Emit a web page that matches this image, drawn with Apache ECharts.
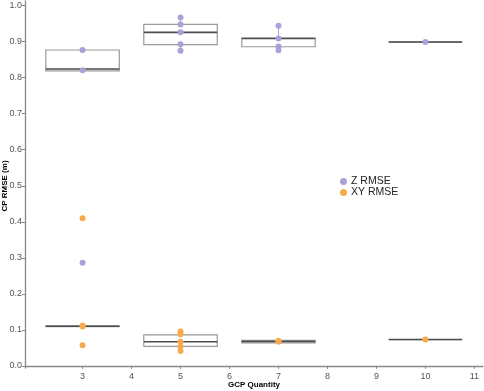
<!DOCTYPE html>
<html>
<head>
<meta charset="utf-8">
<script src="https://cdn.jsdelivr.net/npm/echarts@6/dist/echarts.min.js"></script>
<style>
  html, body { margin: 0; padding: 0; background: #fff; }
  #main { width: 484px; height: 391px; }
</style>
</head>
<body>
<div id="main"></div>
<script>
// GCP positions and tick labels
var xTicks = [3, 4, 5, 6, 7, 8, 9, 10, 11];
var yTicks = [0, 0.1, 0.2, 0.3, 0.4, 0.5, 0.6, 0.7, 0.8, 0.9, 1.0];

// Z RMSE points
var zX = [3, 3, 3, 5, 5, 5, 5, 5, 7, 7, 7, 7, 10];
var zVals = [0.877, 0.821, 0.286, 0.967, 0.948, 0.926, 0.893, 0.875, 0.944, 0.909, 0.887, 0.876, 0.899];

// XY RMSE points
var xyX = [3, 3, 3, 3, 5, 5, 5, 5, 5, 7, 7, 10];
var xyVals = [0.410, 0.112, 0.109, 0.057, 0.095, 0.088, 0.067, 0.054, 0.041, 0.070, 0.067, 0.073];

// boxes: [x, low whisker, q1, median, q3, high whisker]
var boxPos = [3, 5, 7, 10];
var zBox = [
  [0.819, 0.819, 0.824, 0.877, 0.877],
  [0.875, 0.892, 0.926, 0.948, 0.967],
  [0.876, 0.886, 0.909, 0.910, 0.944],
  [0.899, 0.899, 0.899, 0.899, 0.899]
];
var xyBox = [
  [0.109, 0.109, 0.110, 0.111, 0.111],
  [0.041, 0.054, 0.067, 0.086, 0.095],
  [0.064, 0.064, 0.068, 0.071, 0.071],
  [0.073, 0.073, 0.073, 0.073, 0.073]
];

var purple = '#aaa2d6';
var orange = '#f9aa4c';

function pairs(xs, ys) {
  return xs.map(function (x, i) { return [x, ys[i]]; });
}
function boxRows(b) {
  return b.map(function (r, i) { return [boxPos[i]].concat(r); });
}

function makeBoxRender(color) {
  return function (params, api) {
    var x = api.value(0);
    var lo = api.coord([x, api.value(1)]);
    var hi = api.coord([x, api.value(5)]);
    var tl = api.coord([x - 0.75, api.value(4)]);
    var br = api.coord([x + 0.75, api.value(2)]);
    var mL = api.coord([x - 0.75, api.value(3)]);
    var mR = api.coord([x + 0.75, api.value(3)]);
    return {
      type: 'group',
      children: [
        { type: 'line', shape: { x1: hi[0], y1: hi[1], x2: hi[0], y2: tl[1] },
          style: { stroke: color, lineWidth: 1 } },
        { type: 'line', shape: { x1: lo[0], y1: lo[1], x2: lo[0], y2: br[1] },
          style: { stroke: color, lineWidth: 1 } },
        { type: 'rect', shape: { x: tl[0], y: tl[1], width: br[0] - tl[0], height: br[1] - tl[1] },
          style: { fill: '#fff', stroke: '#9a9a9a', lineWidth: 1.2 } },
        { type: 'line', shape: { x1: mL[0], y1: mL[1], x2: mR[0], y2: mR[1] },
          style: { stroke: '#4d4d4d', lineWidth: 1.6 } }
      ]
    };
  };
}

var chart = echarts.init(document.getElementById('main'));
chart.setOption({
  animation: false,
  backgroundColor: '#fff',
  grid: { left: 25, right: 1, top: 1, bottom: 23, outerBoundsMode: 'none', containLabel: false },
  legend: {
    orient: 'vertical',
    left: 335,
    top: 171,
    itemWidth: 7,
    itemHeight: 7,
    itemGap: 0,
    icon: 'circle',
    textStyle: { fontFamily: 'Liberation Sans', fontSize: 10.5, color: '#222', lineHeight: 11, padding: [0, 0, 0, -1] },
    data: ['Z RMSE', 'XY RMSE']
  },
  // axis titles
  graphic: [
    { type: 'text', x: 254, y: 385, style: { text: 'GCP Quantity', textAlign: 'center', textVerticalAlign: 'middle',
        font: 'bold 8px "Liberation Sans"', fill: '#000' } },
    { type: 'text', x: 5, y: 186, rotation: Math.PI / 2, style: { text: 'CP RMSE (m)', textAlign: 'center', textVerticalAlign: 'middle',
        font: 'bold 8px "Liberation Sans"', fill: '#000' } }
  ],
  xAxis: {
    type: 'value',
    min: 1.825,
    max: 11.175,
    axisLine: { lineStyle: { color: '#888', width: 1.3 } },
    axisTick: { customValues: xTicks, length: 3, lineStyle: { color: '#888' } },
    axisLabel: { customValues: xTicks, fontFamily: 'Liberation Sans', fontSize: 9, color: '#555', margin: 4 },
    splitLine: { show: false }
  },
  yAxis: {
    type: 'value',
    min: -0.006,
    max: 1.013,
    axisLine: { show: true, lineStyle: { color: '#888', width: 1.3 } },
    axisTick: { show: true, customValues: yTicks, length: 3, lineStyle: { color: '#888' } },
    axisLabel: {
      customValues: yTicks, fontFamily: 'Liberation Sans', fontSize: 9, color: '#555', margin: 3,
      formatter: function (v) { return v.toFixed(1); }
    },
    splitLine: { show: false }
  },
  series: [
    { type: 'custom', name: 'zbox', renderItem: makeBoxRender(purple), data: boxRows(zBox), z: 1, silent: true },
    { type: 'custom', name: 'xybox', renderItem: makeBoxRender(orange), data: boxRows(xyBox), z: 1, silent: true },
    { type: 'scatter', name: 'Z RMSE', data: pairs(zX, zVals), symbolSize: 6, itemStyle: { color: purple, opacity: 1 }, z: 3 },
    { type: 'scatter', name: 'XY RMSE', data: pairs(xyX, xyVals), symbolSize: 6, itemStyle: { color: orange, opacity: 1 }, z: 3 }
  ]
});
</script>
</body>
</html>
